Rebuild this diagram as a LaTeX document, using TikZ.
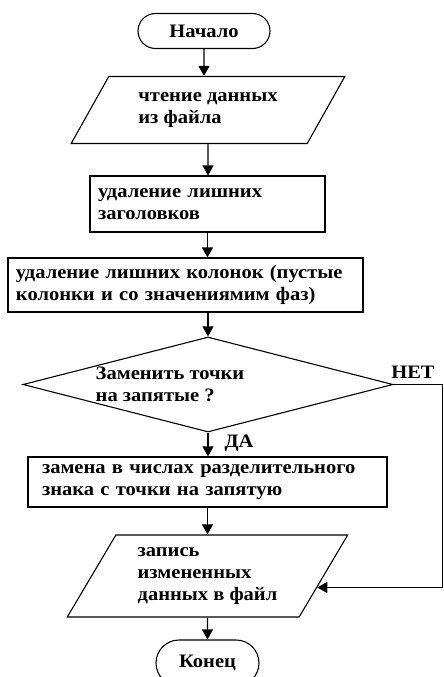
\documentclass[tikz,border=0pt]{standalone}
\usepackage{fontspec}
\setmainfont[FakeStretch=1.08]{Liberation Serif}
\usetikzlibrary{
    arrows.meta,
    shapes.geometric,
    shapes.misc,
    positioning
}

\tikzset{
    base/.style={draw, line width=1.1pt, font=\bfseries\fontsize{19}{22}\selectfont},
    term/.style={base, rounded rectangle, inner sep=0pt},
    io/.style={base, trapezium, trapezium stretches=true, align=left, inner sep=0pt},
    proc/.style={base, rectangle, align=left, inner xsep=8pt, inner ysep=0pt},
    decide/.style={base, diamond, inner sep=0pt},
    lbl/.style={font=\bfseries\fontsize{19}{22}\selectfont, inner sep=0pt},
    flow/.style={line width=1.1pt, -{Triangle[length=10pt,width=11pt]}}
}

\begin{document}
\begin{tikzpicture}[x=1pt,y=-1pt]
\useasboundingbox (0,0) rectangle (444,677);

% Blocks
\node[term, minimum width=132pt, minimum height=35pt] (start) at (204,31) {Начало};
\node[io, trapezium left angle=53, trapezium right angle=127,
      minimum width=274pt, minimum height=67pt] (read) at (208,110) {чтение данных\\из файла};
\node[proc, text width=219pt, minimum height=56pt] (hdr) at (207.5,204) {удаление лишних\\заголовков};
\node[proc, text width=339pt, minimum height=54pt] (cols) at (185.5,285)
    {удаление лишних колонок (пустые\\колонки и со значениямим фаз)};
\node[decide, minimum width=370pt, minimum height=95pt] (ask) at (208,384.5) {};
\node[lbl, align=left] (asktext) at (170,384.5) {Заменить точки\\на запятые ?};
\node[proc, inner xsep=14pt, text width=331pt, minimum height=50pt] (repl) at (207.5,482)
    {замена в числах разделительного\\знака с точки на запятую};
\node[io, trapezium left angle=57, trapezium right angle=123,
      minimum width=281pt, minimum height=82pt] (write) at (207.5,576) {запись\\измененных\\данных в файл};
\node[term, minimum width=103pt, minimum height=46pt] (stop) at (207.5,663) {Конец};

% Branch labels
\node[lbl] (yes) at (239,443) {ДА};
\node[lbl] (no) at (413,372) {НЕТ};

% Flow arrows
\draw[flow] (start) -- (start |- read.north);
\draw[flow] (read) -- (read |- hdr.north);
\draw[flow] (hdr) -- (hdr |- cols.north);
\draw[flow] (cols.south -| ask) -- (ask.north);
\draw[flow] (ask.south) -- (ask.south |- repl.north);
\draw[flow] (repl) -- (write);
\draw[flow] (write) -- (stop);
\draw[flow, line width=0.8pt] (ask.east) -- ++(49,0) |- (write.-6);
\end{tikzpicture}
\end{document}
